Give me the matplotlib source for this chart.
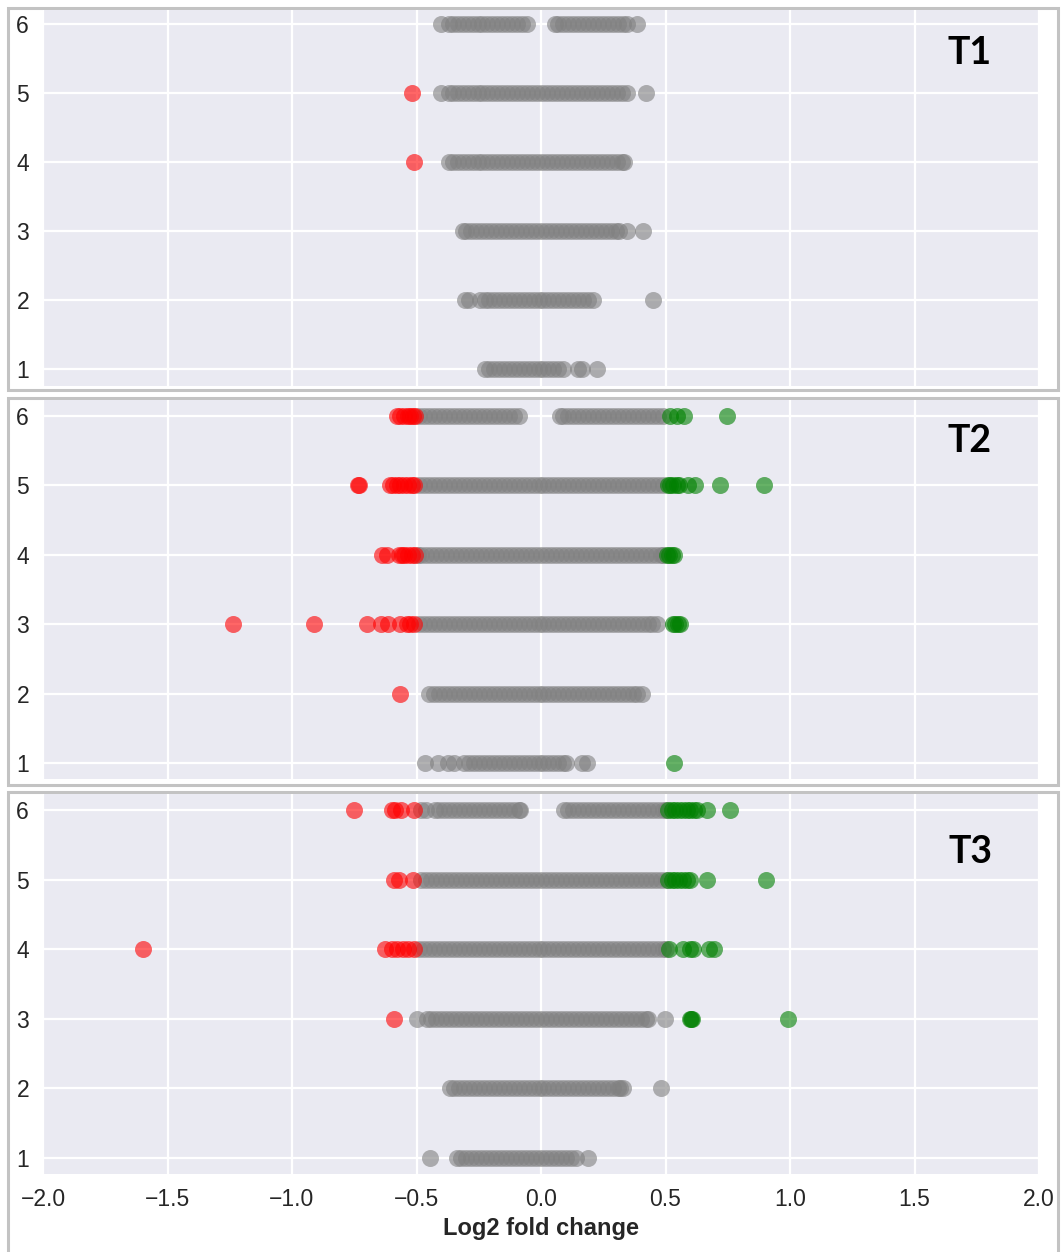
import matplotlib
matplotlib.use("Agg")
import matplotlib.pyplot as plt
import seaborn as sns
from matplotlib.patches import Rectangle

# ---------------------------------------------------------------------------
# Log2 fold change per protein, grouped by row (1-6) for each time point.
# grey: |LFC| <= 0.5, red: LFC < -0.5, green: LFC > 0.5
# ---------------------------------------------------------------------------
rows = [1, 2, 3, 4, 5, 6]
panel_names = ["T1", "T2", "T3"]
x_ticks = [-2.0, -1.5, -1.0, -0.5, 0.0, 0.5, 1.0, 1.5, 2.0]
x_label = "Log2 fold change"

T1_GRAY = {
    6: [-0.40, -0.37, -0.355, -0.335, -0.315, -0.295, -0.275, -0.255, -0.235, -0.215,
        -0.195, -0.175, -0.155, -0.135, -0.115, -0.095, -0.075, -0.055,
        0.055, 0.07, 0.09, 0.11, 0.13, 0.15, 0.17, 0.19, 0.21, 0.23, 0.25, 0.27,
        0.29, 0.31, 0.33, 0.345, 0.385],
    5: [-0.40, -0.37, -0.355, -0.335, -0.315, -0.295, -0.275, -0.255, -0.235, -0.215,
        -0.195, -0.175, -0.155, -0.135, -0.115, -0.095, -0.075, -0.055, -0.035, -0.015,
        0.005, 0.025, 0.045, 0.065, 0.085, 0.105, 0.125, 0.145, 0.165, 0.185,
        0.205, 0.225, 0.245, 0.265, 0.285, 0.305, 0.325, 0.345, 0.42],
    4: [-0.37, -0.355, -0.335, -0.315, -0.295, -0.275, -0.255, -0.235, -0.215, -0.195,
        -0.175, -0.155, -0.135, -0.115, -0.095, -0.075, -0.055, -0.035, -0.015, 0.005,
        0.025, 0.045, 0.065, 0.085, 0.105, 0.125, 0.145, 0.165, 0.185, 0.205,
        0.225, 0.245, 0.265, 0.285, 0.305, 0.325, 0.335],
    3: [-0.315, -0.30, -0.28, -0.26, -0.24, -0.22, -0.20, -0.18, -0.16, -0.14,
        -0.12, -0.10, -0.08, -0.06, -0.04, -0.02, 0.0, 0.02, 0.04, 0.06,
        0.08, 0.10, 0.12, 0.14, 0.16, 0.18, 0.20, 0.22, 0.24, 0.26,
        0.28, 0.30, 0.315, 0.345, 0.41],
    2: [-0.305, -0.29, -0.245, -0.225, -0.21, -0.19, -0.17, -0.15, -0.13, -0.11,
        -0.09, -0.07, -0.05, -0.03, -0.01, 0.01, 0.03, 0.05, 0.07, 0.09,
        0.11, 0.13, 0.15, 0.17, 0.19, 0.21, 0.45],
    1: [-0.225, -0.21, -0.19, -0.17, -0.15, -0.13, -0.11, -0.09, -0.07, -0.05,
        -0.03, -0.01, 0.01, 0.03, 0.05, 0.07, 0.09, 0.15, 0.163, 0.224],
}
T1_RED = {5: [-0.52], 4: [-0.51]}
T1_GREEN = {}

T2_GRAY = {
    6: [-0.49, -0.47, -0.45, -0.43, -0.41, -0.39, -0.37, -0.35, -0.33, -0.31,
        -0.29, -0.27, -0.25, -0.23, -0.21, -0.19, -0.17, -0.15, -0.13, -0.11,
        -0.09, 0.077, 0.09, 0.11, 0.13, 0.15, 0.17, 0.19, 0.21, 0.23,
        0.25, 0.27, 0.29, 0.31, 0.33, 0.35, 0.37, 0.39, 0.41, 0.43,
        0.45, 0.47, 0.49],
    5: [-0.49, -0.47, -0.45, -0.43, -0.41, -0.39, -0.37, -0.35, -0.33, -0.31,
        -0.29, -0.27, -0.25, -0.23, -0.21, -0.19, -0.17, -0.15, -0.13, -0.11,
        -0.09, -0.07, -0.05, -0.03, -0.01, 0.01, 0.03, 0.05, 0.07, 0.09,
        0.11, 0.13, 0.15, 0.17, 0.19, 0.21, 0.23, 0.25, 0.27, 0.29,
        0.31, 0.33, 0.35, 0.37, 0.39, 0.41, 0.43, 0.45, 0.47, 0.49],
    4: [-0.495, -0.48, -0.46, -0.44, -0.42, -0.40, -0.38, -0.36, -0.34, -0.32,
        -0.30, -0.28, -0.26, -0.24, -0.22, -0.20, -0.18, -0.16, -0.14, -0.12,
        -0.10, -0.08, -0.06, -0.04, -0.02, 0.0, 0.02, 0.04, 0.06, 0.08,
        0.10, 0.12, 0.14, 0.16, 0.18, 0.20, 0.22, 0.24, 0.26, 0.28,
        0.30, 0.32, 0.34, 0.36, 0.38, 0.40, 0.42, 0.44, 0.46, 0.48, 0.49],
    3: [-0.49, -0.47, -0.45, -0.43, -0.41, -0.39, -0.37, -0.35, -0.33, -0.31,
        -0.29, -0.27, -0.25, -0.23, -0.21, -0.19, -0.17, -0.15, -0.13, -0.11,
        -0.09, -0.07, -0.05, -0.03, -0.01, 0.01, 0.03, 0.05, 0.07, 0.09,
        0.11, 0.13, 0.15, 0.17, 0.19, 0.21, 0.23, 0.25, 0.27, 0.29,
        0.31, 0.33, 0.35, 0.37, 0.39, 0.41, 0.43, 0.445, 0.465],
    2: [-0.45, -0.43, -0.41, -0.39, -0.37, -0.35, -0.33, -0.31, -0.29, -0.27,
        -0.25, -0.23, -0.21, -0.19, -0.17, -0.15, -0.13, -0.11, -0.09, -0.07,
        -0.05, -0.03, -0.01, 0.01, 0.03, 0.05, 0.07, 0.09, 0.11, 0.13,
        0.15, 0.17, 0.19, 0.21, 0.23, 0.25, 0.27, 0.29, 0.31, 0.33,
        0.35, 0.37, 0.385, 0.405],
    1: [-0.466, -0.415, -0.372, -0.35, -0.31, -0.29, -0.27, -0.25, -0.23, -0.21,
        -0.19, -0.17, -0.15, -0.13, -0.11, -0.09, -0.07, -0.05, -0.03, -0.01,
        0.01, 0.03, 0.05, 0.07, 0.09, 0.10, 0.165, 0.185],
}
T2_RED = {
    6: [-0.58, -0.565, -0.55, -0.535, -0.525, -0.515, -0.505],
    5: [-0.735, -0.73, -0.605, -0.595, -0.58, -0.565, -0.55, -0.535, -0.52, -0.51],
    4: [-0.64, -0.62, -0.57, -0.56, -0.55, -0.535, -0.52, -0.505],
    3: [-1.237, -0.91, -0.70, -0.643, -0.616, -0.565, -0.54, -0.525, -0.51],
    2: [-0.565],
}
T2_GREEN = {
    6: [0.52, 0.545, 0.573, 0.745],
    5: [0.51, 0.52, 0.53, 0.545, 0.555, 0.59, 0.62, 0.717, 0.896],
    4: [0.505, 0.515, 0.525, 0.535],
    3: [0.53, 0.54, 0.55, 0.56],
    1: [0.536],
}

T3_GRAY = {
    6: [-0.48, -0.46, -0.425, -0.41, -0.39, -0.37, -0.35, -0.33, -0.31, -0.29,
        -0.27, -0.25, -0.23, -0.21, -0.19, -0.17, -0.15, -0.13, -0.11, -0.09,
        -0.083, 0.092, 0.11, 0.13, 0.15, 0.17, 0.19, 0.21, 0.23, 0.25,
        0.27, 0.29, 0.31, 0.33, 0.35, 0.37, 0.39, 0.41, 0.43, 0.45,
        0.47, 0.49, 0.50],
    5: [-0.48, -0.46, -0.44, -0.42, -0.40, -0.38, -0.36, -0.34, -0.32, -0.30,
        -0.28, -0.26, -0.24, -0.22, -0.20, -0.18, -0.16, -0.14, -0.12, -0.10,
        -0.08, -0.06, -0.04, -0.02, 0.0, 0.02, 0.04, 0.06, 0.08, 0.10,
        0.12, 0.14, 0.16, 0.18, 0.20, 0.22, 0.24, 0.26, 0.28, 0.30,
        0.32, 0.34, 0.36, 0.38, 0.40, 0.42, 0.44, 0.46, 0.48, 0.50],
    4: [-0.489, -0.47, -0.45, -0.43, -0.41, -0.39, -0.37, -0.35, -0.33, -0.31,
        -0.29, -0.27, -0.25, -0.23, -0.21, -0.19, -0.17, -0.15, -0.13, -0.11,
        -0.09, -0.07, -0.05, -0.03, -0.01, 0.01, 0.03, 0.05, 0.07, 0.09,
        0.11, 0.13, 0.15, 0.17, 0.19, 0.21, 0.23, 0.25, 0.27, 0.29,
        0.31, 0.33, 0.35, 0.37, 0.39, 0.41, 0.43, 0.45, 0.47, 0.49, 0.50],
    3: [-0.50, -0.457, -0.44, -0.42, -0.40, -0.38, -0.36, -0.34, -0.32, -0.30,
        -0.28, -0.26, -0.24, -0.22, -0.20, -0.18, -0.16, -0.14, -0.12, -0.10,
        -0.08, -0.06, -0.04, -0.02, 0.0, 0.02, 0.04, 0.06, 0.08, 0.10,
        0.12, 0.14, 0.16, 0.18, 0.20, 0.22, 0.24, 0.26, 0.28, 0.30,
        0.32, 0.34, 0.36, 0.38, 0.40, 0.42, 0.431, 0.498],
    2: [-0.366, -0.35, -0.33, -0.31, -0.29, -0.27, -0.25, -0.23, -0.21, -0.19,
        -0.17, -0.15, -0.13, -0.11, -0.09, -0.07, -0.05, -0.03, -0.01, 0.01,
        0.03, 0.05, 0.07, 0.09, 0.11, 0.13, 0.15, 0.17, 0.19, 0.21,
        0.23, 0.25, 0.27, 0.29, 0.31, 0.318, 0.33, 0.481],
    1: [-0.444, -0.337, -0.32, -0.30, -0.28, -0.26, -0.24, -0.22, -0.20, -0.18,
        -0.16, -0.14, -0.12, -0.10, -0.08, -0.06, -0.04, -0.02, 0.0, 0.02,
        0.04, 0.06, 0.08, 0.10, 0.12, 0.14, 0.187],
}
T3_RED = {
    6: [-0.75, -0.60, -0.585, -0.563, -0.511],
    5: [-0.59, -0.57, -0.516],
    4: [-1.60, -0.627, -0.60, -0.58, -0.555, -0.533, -0.511],
    3: [-0.59],
}
T3_GREEN = {
    6: [0.51, 0.525, 0.54, 0.555, 0.57, 0.585, 0.60, 0.615, 0.627, 0.667, 0.761],
    5: [0.51, 0.525, 0.54, 0.555, 0.57, 0.585, 0.60, 0.667, 0.903],
    4: [0.515, 0.571, 0.60, 0.611, 0.675, 0.695],
    3: [0.598, 0.603, 0.607, 0.99],
}

# ---------------------------------------------------------------------------
sns.set_style("darkgrid")
plt.rcParams["font.family"] = ["Liberation Sans", "DejaVu Sans"]

W, H = 1061, 1252
fig = plt.figure(figsize=(W / 100, H / 100), dpi=100)
fig.patch.set_facecolor("white")


def px_rect(left, top, right, bottom):
    return [left / W, 1 - bottom / H, (right - left) / W, (bottom - top) / H]


layout = [
    dict(axes=(43, 10, 1039, 386), ylim=(0.76, 6.2), box=(7.5, 8.5, 1058, 390.5), label=(970, 53)),
    dict(axes=(43, 400, 1039, 779), ylim=(0.77, 6.23), box=(7.5, 397.5, 1058, 785), label=(970, 441)),
    dict(axes=(43, 794, 1039, 1174), ylim=(0.77, 6.235), box=(7.5, 791.5, 1058, 1262), label=(970, 852)),
]
series = [
    (T1_GRAY, T1_RED, T1_GREEN),
    (T2_GRAY, T2_RED, T2_GREEN),
    (T3_GRAY, T3_RED, T3_GREEN),
]
colours = ["grey", "red", "green"]

for i, (name, spec, groups) in enumerate(zip(panel_names, layout, series)):
    # light frame around each panel
    bl, bt, br, bb = spec["box"]
    fig.add_artist(Rectangle((bl / W, 1 - bb / H), (br - bl) / W, (bb - bt) / H,
                             transform=fig.transFigure, fill=False,
                             edgecolor="#C3C3C3", linewidth=2.2, zorder=0))

    ax = fig.add_axes(px_rect(*spec["axes"]))
    ax.set_facecolor("#EAEAF2")
    for data, col in zip(groups, colours):
        for r in rows:
            vals = data.get(r, [])
            if vals:
                ax.scatter(vals, [r] * len(vals), s=150, color=col, alpha=0.6,
                           linewidths=0, zorder=3)

    ax.set_xlim(-2, 2)
    ax.set_ylim(*spec["ylim"])
    ax.set_xticks(x_ticks)
    ax.set_yticks(rows)
    ax.grid(True, color="white", linewidth=1.6)
    ax.set_axisbelow(True)
    for sp in ax.spines.values():
        sp.set_visible(False)
    ax.tick_params(axis="y", labelsize=16.5, pad=10, length=0, labelcolor="#262626")
    ax.tick_params(axis="x", labelsize=16.5, pad=10, length=0, labelcolor="#262626")
    if i < 2:
        ax.tick_params(labelbottom=False)
    else:
        ax.set_xlabel(x_label, fontsize=17, fontweight="bold", color="#262626")
        ax.xaxis.set_label_coords(0.5, (spec["axes"][3] - 1228) / (spec["axes"][3] - spec["axes"][1]))
        ax.xaxis.label.set_va("center")

    lx, ly = spec["label"]
    fig.text(lx / W, 1 - ly / H, name, ha="center", va="center",
             fontsize=27, fontweight="bold", family=["Lato", "DejaVu Sans"], color="black")

fig.savefig("out.png", dpi=100, facecolor="white")
